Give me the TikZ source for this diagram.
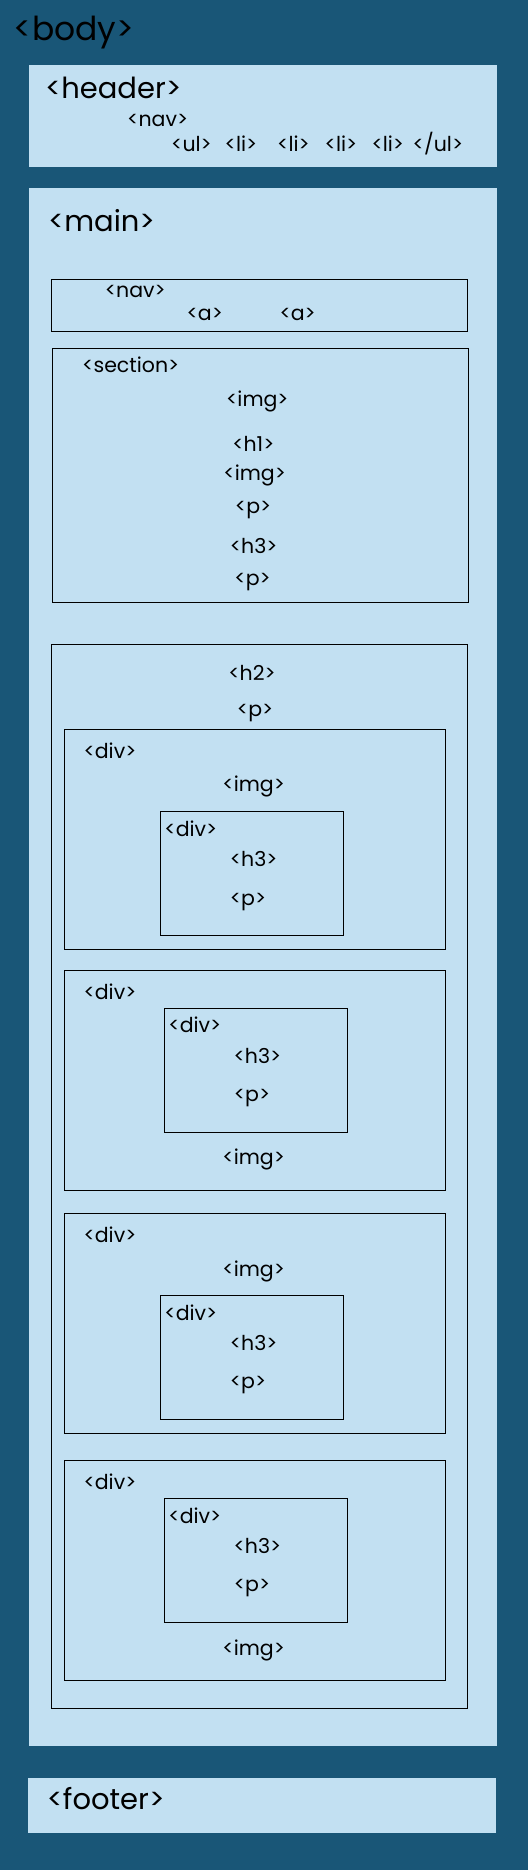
\documentclass[tikz,border=0pt]{standalone}
\usepackage{fontspec}
\setmainfont{Poppins}
\usetikzlibrary{fit}
\definecolor{bodyblue}{HTML}{195677}
\definecolor{paleblue}{HTML}{C2E0F2}
\begin{document}
\begin{tikzpicture}[x=1pt,y=-1pt,
  region/.style={fill=paleblue, draw=none, inner sep=0pt},
  box/.style={draw=black, line width=1pt, inner sep=0pt},
  bigtxt/.style={font=\fontsize{33}{35}\selectfont, inner sep=0pt, anchor=base west},
  tagtxt/.style={font=\fontsize{29}{31}\selectfont, inner sep=0pt, anchor=base west},
  lbl/.style={font=\fontsize{20.5}{22}\selectfont, inner sep=0pt, anchor=base west},
  ctr/.style={font=\fontsize{20.5}{22}\selectfont, inner sep=0pt, anchor=base}]
\fill[bodyblue] (0,0) rectangle (528,1870);
\useasboundingbox (0,0) rectangle (528,1870);
\node[bigtxt] (body) at (13.5,41) {<body>};
% header
\node[region, fit={(29,65)(497,166.7)}] (header) {};
\node[tagtxt] (headerlbl) at (45,99) {<header>};
\node[lbl] (hnav) at (127,127) {<nav>};
\node[lbl] (ul) at (171,152) {<ul>};
\node[lbl] (li1) at (224.5,152) {<li>};
\node[lbl] (li2) at (277,152) {<li>};
\node[lbl] (li3) at (324.5,152) {<li>};
\node[lbl] (li4) at (371.3,152) {<li>};
\node[lbl] (ulend) at (412.5,152) {</ul>};
% main
\node[region, fit={(29,188)(497,1746)}] (main) {};
\node[tagtxt] (mainlbl) at (48,231.7) {<main>};
\node[box, fit={(51.2,279.3)(467.7,331.3)}] (mnav) {};
\node[lbl] (mnavlbl) at (104.6,297) {<nav>};
\node[lbl] (a1) at (186.4,320.7) {<a>};
\node[lbl] (a2) at (279.3,320.7) {<a>};
% section
\node[box, fit={(52.2,348.3)(468.4,602.3)}] (section) {};
\node[lbl] (seclbl) at (82,372.3) {<section>};
\node[ctr] (simg1) at (257.3,406) {<img>};
\node[ctr] (sh1) at (253.3,451.7) {<h1>};
\node[ctr] (simg2) at (254.6,480) {<img>};
\node[ctr] (sp1) at (253.1,513) {<p>};
\node[ctr] (sh3) at (253.6,553) {<h3>};
\node[ctr] (sp2) at (252.6,585) {<p>};
% outer container
\node[box, fit={(51.2,644.3)(467.7,1708.3)}] (outer) {};
\node[ctr] (oh2) at (252,680.7) {<h2>};
\node[ctr] (op) at (255.1,716.7) {<p>};
% div 1
\node[box, fit={(64.3,729.3)(445.5,949.3)}] (d1) {};
\node[lbl] (d1lbl) at (83.3,758.3) {<div>};
\node[ctr] (d1img) at (253.6,791.7) {<img>};
\node[box, fit={(160.3,811.3)(343.8,935.3)}] (d1in) {};
\node[lbl] (d1inlbl) at (164.2,836.7) {<div>};
\node[ctr] (d1h3) at (253.6,866.7) {<h3>};
\node[ctr] (d1p) at (248,905) {<p>};
% div 2
\node[box, fit={(64.3,970.3)(445.5,1190.3)}] (d2) {};
\node[lbl] (d2lbl) at (83.3,999.3) {<div>};
\node[box, fit={(164,1008.3)(347.5,1132.3)}] (d2in) {};
\node[lbl] (d2inlbl) at (168.2,1032.7) {<div>};
\node[ctr] (d2h3) at (257.4,1063.3) {<h3>};
\node[ctr] (d2p) at (252,1101.7) {<p>};
\node[ctr] (d2img) at (253.6,1164) {<img>};
% div 3
\node[box, fit={(64.3,1213.3)(445.5,1433.3)}] (d3) {};
\node[lbl] (d3lbl) at (83.3,1242.3) {<div>};
\node[ctr] (d3img) at (253.6,1276) {<img>};
\node[box, fit={(160.3,1295.7)(343.8,1419.3)}] (d3in) {};
\node[lbl] (d3inlbl) at (164.2,1320) {<div>};
\node[ctr] (d3h3) at (253.6,1350) {<h3>};
\node[ctr] (d3p) at (248,1388.3) {<p>};
% div 4
\node[box, fit={(64.3,1460.3)(445.5,1680.3)}] (d4) {};
\node[lbl] (d4lbl) at (83.3,1489.3) {<div>};
\node[box, fit={(164,1498.3)(347.5,1622.3)}] (d4in) {};
\node[lbl] (d4inlbl) at (168.2,1523.3) {<div>};
\node[ctr] (d4h3) at (257.4,1553.3) {<h3>};
\node[ctr] (d4p) at (252,1591.7) {<p>};
\node[ctr] (d4img) at (253.6,1655) {<img>};
% footer
\node[region, fit={(28,1778)(496,1832.7)}] (footer) {};
\node[tagtxt] (footerlbl) at (46.7,1809.3) {<footer>};
\end{tikzpicture}
\end{document}
